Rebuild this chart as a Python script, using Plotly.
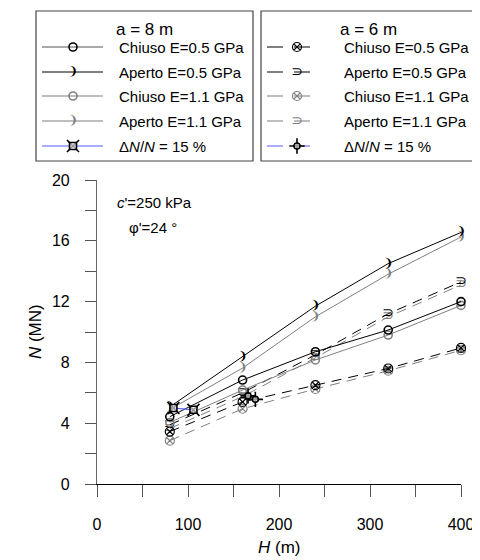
import plotly.graph_objects as go

# H (m) and N (MN)
H = [80, 160, 240, 320, 400]
N8_chiuso_05 = [4.43, 6.84, 8.70, 10.13, 12.00]
N8_aperto_05 = [5.07, 8.38, 11.70, 14.50, 16.55]
N8_chiuso_11 = [4.05, 6.18, 8.16, 9.80, 11.75]
N8_aperto_11 = [4.90, 7.63, 11.00, 13.80, 16.25]
N6_chiuso_05 = [3.45, 5.40, 6.50, 7.60, 8.95]
N6_aperto_05 = [3.90, 6.00, 8.50, 11.20, 13.30]
N6_chiuso_11 = [2.85, 4.95, 6.25, 7.45, 8.80]
N6_aperto_11 = [3.65, 5.75, 8.30, 11.00, 13.10]
H_dn8 = [84, 106]
N_dn8 = [5.00, 4.88]
H_dn6 = [166, 174]
N_dn6 = [5.80, 5.57]

labels = ["Chiuso E=0.5 GPa", "Aperto E=0.5 GPa", "Chiuso E=1.1 GPa",
          "Aperto E=1.1 GPa", "\u0394<i>N</i>/<i>N</i> = 15 %"]
x_ticks = [0, 50, 100, 150, 200, 250, 300, 350, 400]
x_text = ["0", "", "100", "", "200", "", "300", "", "400"]
y_ticks = [0, 2, 4, 6, 8, 10, 12, 14, 16, 18, 20]
y_text = ["0", "", "4", "", "8", "", "12", "", "16", "", "20"]

GRAY = "#7f7f7f"
BLUE = "#5b5bff"
FONT = "Liberation Sans, Arial, sans-serif"
GLYPH = "DejaVu Sans"

# the page has an 8px body margin, so the figure is drawn 8px in from the corner
OFF = 8
W, HGT = 480 - OFF, 560 - OFF
ML, MR, MT, MB = 22, 4, 2, 76
PW, PH = W - ML - MR, HGT - MT - MB


def px_x(p):
    # page pixel -> paper fraction
    return (p - OFF - ML) / PW


def px_y(p):
    return (HGT - MB - (p - OFF)) / PH


def style(kind, color, dash):
    d = dict(line=dict(color=color, width=1, dash=dash))
    if kind == "chiuso8":
        d.update(mode="lines+markers",
                 marker=dict(symbol="circle-open", size=8, color=color, line=dict(width=1.6, color=color)))
    elif kind == "chiuso6":
        d.update(mode="lines+markers",
                 marker=dict(symbol="circle-x-open", size=9, color=color, line=dict(width=1.2, color=color)))
    elif kind == "aperto8":
        d.update(mode="lines+text", textfont=dict(family=GLYPH, size=12, color=color),
                 textposition="middle center")
    elif kind == "aperto6":
        d.update(mode="lines+text", textfont=dict(family=GLYPH, size=14, color=color),
                 textposition="middle center")
    return d


def glyph(kind):
    return {"aperto8": "<b>\u2769</b>", "aperto6": "\u2283"}.get(kind)


series6 = [
    (N6_chiuso_11, "chiuso6", GRAY),
    (N6_aperto_11, "aperto6", GRAY),
    (N6_chiuso_05, "chiuso6", "black"),
    (N6_aperto_05, "aperto6", "black"),
]
series8 = [
    (N8_chiuso_11, "chiuso8", GRAY),
    (N8_aperto_11, "aperto8", GRAY),
    (N8_chiuso_05, "chiuso8", "black"),
    (N8_aperto_05, "aperto8", "black"),
]

fig = go.Figure()
for ys, kind, col in series6:
    st = style(kind, col, "10px,7px")
    g = glyph(kind)
    if g:
        st["text"] = [g] * len(ys)
    fig.add_trace(go.Scatter(x=H, y=ys, showlegend=False, cliponaxis=False, **st))
for ys, kind, col in series8:
    st = style(kind, col, "solid")
    g = glyph(kind)
    if g:
        st["text"] = [g] * len(ys)
    fig.add_trace(go.Scatter(x=H, y=ys, showlegend=False, cliponaxis=False, **st))


def dn_traces(xs, ys, which, dash, xa="x", ya="y"):
    out = [go.Scatter(x=xs, y=ys, mode="lines", line=dict(color=BLUE, width=1.2, dash=dash),
                      showlegend=False, xaxis=xa, yaxis=ya, cliponaxis=False)]
    spikes = "x-thin-open" if which == 8 else "cross-thin-open"
    body = "square" if which == 8 else "circle"
    big = 12 if which == 8 else 11
    small = 7 if which == 8 else 6
    out.append(go.Scatter(x=xs, y=ys, mode="markers", showlegend=False, xaxis=xa, yaxis=ya,
                          marker=dict(symbol=spikes, size=big, color="black",
                                      line=dict(width=1.6, color="black")),
                          cliponaxis=False))
    out.append(go.Scatter(x=xs, y=ys, mode="markers", showlegend=False, xaxis=xa, yaxis=ya,
                          marker=dict(symbol=body, size=small, color="rgba(255,255,255,0.6)",
                                      line=dict(width=1.6, color="black")),
                          cliponaxis=False))
    return out


for t in dn_traces(H_dn8, N_dn8, 8, "solid"):
    fig.add_trace(t)
for t in dn_traces(H_dn6, N_dn6, 6, "solid"):
    fig.add_trace(t)

# ---- hand drawn legend boxes on an auxiliary axis in page pixels ----
LEG_BOT = 175.0
rows = [47, 72, 96, 121, 146]
boxes = [
    dict(x0=36, x1=253, title="a = 8 m", tx=144, l0=42, l1=103, m=73, txt=117,
         items=[("chiuso8", "black"), ("aperto8", "black"), ("chiuso8", GRAY), ("aperto8", GRAY), ("dn", 8)],
         dash="solid"),
    dict(x0=261, x1=477, title="a = 6 m", tx=368, l0=267, l1=313, m=297, txt=342,
         items=[("chiuso6", "black"), ("aperto6", "black"), ("chiuso6", GRAY), ("aperto6", GRAY), ("dn", 6)],
         dash="16px,11px"),
]
shapes = []
annotations = []
for b in boxes:
    shapes.append(dict(type="rect", xref="x2", yref="y2", x0=b["x0"], x1=b["x1"], y0=11, y1=161,
                       line=dict(color="#444", width=1.2)))
    annotations.append(dict(xref="x2", yref="y2", x=b["tx"], y=29, text=b["title"], showarrow=False,
                            font=dict(family=FONT, size=17, color="black")))
    for (kind, col), ry, lab in zip(b["items"], rows, labels):
        annotations.append(dict(xref="x2", yref="y2", x=b["txt"], y=ry, text=lab, showarrow=False,
                                xanchor="left", font=dict(family=FONT, size=15, color="black")))
        if kind == "dn":
            for t in dn_traces([b["l0"], b["l1"]], [ry, ry], col, b["dash"], "x2", "y2")[:1]:
                fig.add_trace(t)
            for t in dn_traces([b["m"]], [ry], col, b["dash"], "x2", "y2")[1:]:
                fig.add_trace(t)
            continue
        lc = "#555" if (kind == "chiuso8" and col == "black") else col
        fig.add_trace(go.Scatter(x=[b["l0"], b["l1"]], y=[ry, ry], mode="lines", xaxis="x2", yaxis="y2",
                                 line=dict(color=lc, width=1.2, dash=b["dash"]), showlegend=False))
        st = style(kind, col, "solid")
        st.pop("line")
        st["mode"] = st["mode"].replace("lines+", "")
        g = glyph(kind)
        if g:
            st["text"] = [g]
        fig.add_trace(go.Scatter(x=[b["m"]], y=[ry], xaxis="x2", yaxis="y2", showlegend=False,
                                 cliponaxis=False, **st))

# plot annotations
annotations += [
    dict(xref="x", yref="y", x=20, y=18.5, text="<i>c</i>'=250 kPa", showarrow=False, xanchor="left",
         yanchor="middle", font=dict(family=FONT, size=15, color="black")),
    dict(xref="x", yref="y", x=33, y=16.85, text="\u03c6'=24 \u00b0", showarrow=False, xanchor="left",
         yanchor="middle", font=dict(family=FONT, size=15, color="black")),
    dict(xref="x", yref="y", x=404, y=17.7, text="<i>a</i>=8 m", showarrow=False, xanchor="right",
         yanchor="middle", font=dict(family=FONT, size=15, color="black")),
    dict(xref="x", yref="y", x=404, y=6.85, text="<i>a</i>=6 m", showarrow=False, xanchor="right",
         yanchor="middle", font=dict(family=FONT, size=15, color="black")),
    dict(xref="x", yref="y domain", x=200, y=-0.21, text="<i>H</i> (m)", showarrow=False,
         xanchor="center", yanchor="middle", font=dict(family=FONT, size=17, color="black")),
    dict(xref="x domain", yref="y domain", x=-0.17, y=0.5, text="<i>N</i> (MN)", showarrow=False,
         xanchor="center", yanchor="middle", textangle=-90,
         font=dict(family=FONT, size=17, color="black")),
]

fig.update_layout(
    width=W, height=HGT,
    margin=dict(l=ML, r=MR, t=MT, b=MB),
    paper_bgcolor="white", plot_bgcolor="white",
    showlegend=False,
    font=dict(family=FONT, size=16, color="black"),
    xaxis=dict(domain=[px_x(97), px_x(461)], range=[0, 400], tickvals=x_ticks, ticktext=x_text,
               ticks="outside", ticklen=12, tickcolor="#555", tickwidth=1.2, showline=True,
               linecolor="black", linewidth=1.2, showgrid=False, zeroline=False,
               ticklabelstandoff=14, automargin=False, tickfont=dict(size=16)),
    yaxis=dict(domain=[0, px_y(180)], range=[0, 20], tickvals=y_ticks, ticktext=y_text,
               ticks="outside", ticklen=11, tickcolor="#555", tickwidth=1.2, showline=True,
               linecolor="#666", linewidth=1.2, showgrid=False, zeroline=False,
               ticklabelstandoff=12, automargin=False, tickfont=dict(size=16)),
    xaxis2=dict(domain=[0, 1], range=[ML + OFF, W - MR + OFF], visible=False, anchor="y2"),
    yaxis2=dict(domain=[px_y(LEG_BOT), 1], range=[LEG_BOT, MT + OFF], visible=False, anchor="x2"),
    shapes=shapes,
    annotations=annotations,
)

fig.write_html("out.html")
